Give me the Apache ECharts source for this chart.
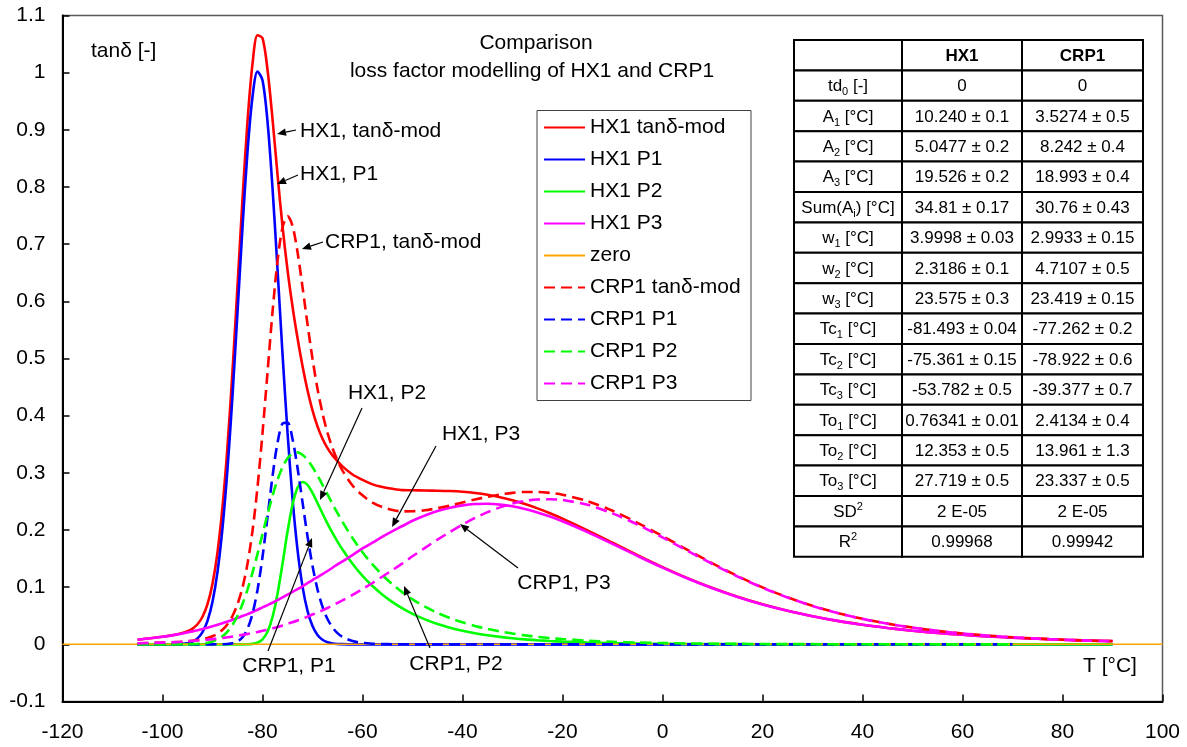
<!DOCTYPE html>
<html><head><meta charset="utf-8">
<script src="https://cdn.jsdelivr.net/npm/echarts/dist/echarts.min.js"></script>
<style>html,body{margin:0;padding:0;background:#fff}#c{width:1187px;height:747px}</style>
</head><body><div id="c"></div>
<script>
// ---------- data ----------
const temps = [-105,-100,-97,-95,-94,-93,-92,-91,-90,-89,-88,-87,-86,-85,-84,-83,-82,-81,-80,-79,-78,-77,-76,-75,-74,-73,-72,-71,-70,-69,-68,-67,-66,-65,-64,-62,-60,-58,-56,-54,-52,-50,-47.5,-45,-42.5,-40,-37.5,-35,-32.5,-30,-27.5,-25,-22.5,-20,-15,-10,-5,0,5,10,15,20,25,30,35,40,45,50,55,60,65,70,75,80,85,90];

const hx1Mod = [0.0080,0.0132,0.0177,0.0229,
 0.0275,0.0351,0.0482,0.0702,0.1061,0.1610,0.2403,0.3465,0.4780,0.6269,
 0.7789,0.9148,1.0153,1.0655,1.0603,1.0056,0.9190,0.8220,0.7315,0.6550,
 0.5910,0.5359,0.4869,0.4445,0.4093,0.3812,0.3597,0.3433,0.3305,0.3205,
 0.3113,
 0.2971,0.2877,0.2798,0.2752,0.2720,0.2698,0.2696,
 0.2690,0.2687,0.2681,0.2669,0.2648,0.2617,0.2574,0.2520,0.2454,0.2378,0.2293,0.2199,
 0.1994,0.1778,0.1560,0.1351,0.1158,0.0985,0.0832,0.0700,0.0587,0.0492,0.0410,0.0343,0.0287,0.0239,0.0200,0.0167,0.0139,0.0116,0.0097,0.0081,0.0068,0.0057];

const hx1P1 = [0,0,0.0003,0.0020,
 0.0048,0.0104,0.0213,0.0410,0.0744,0.1268,0.2034,0.3067,0.4351,0.5807,
 0.7294,0.8617,0.9579,1.0021,0.9869,0.9149,0.7986,0.6566,0.5086,0.3712,
 0.2553,0.1657,0.1014,0.0586,0.0319,0.0164,0.0080,0.0037,0.0016,0.0007,
 0.0003,
 0,0,0,0,0,0,0,
 0,0,0,0,0,0,0,0,0,0,0,0,
 0,0,0,0,0,0,0,0,0,0,0,0,0,0,0,0,0,0,0,0,0,0];

const hx1P2 = [0,0,0,0,
 0,0,0,0,0,0,0,0,0,0,
 0.0000,0.0002,0.0008,0.0029,0.0087,0.0220,0.0476,0.0881,0.1409,0.1968,
 0.2441,0.2738,0.2840,0.2790,0.2649,0.2472,0.2289,0.2113,0.1949,0.1798,
 0.1658,
 0.1410,0.1199,0.1020,0.0868,0.0738,0.0628,0.0534,
 0.0436,0.0356,0.0291,0.0238,0.0194,0.0159,0.0130,0.0106,0.0086,0.0071,0.0058,0.0047,
 0.0031,0.0021,0.0014,0.0009,0.0006,0.0004,0.0003,0.0002,0.0001,0.0001,0,0,0,0,0,0,0,0,0,0,0,0];

const hx1P3 = [0.0080,0.0132,0.0174,0.0209,
 0.0227,0.0247,0.0269,0.0292,0.0317,0.0342,0.0369,0.0398,0.0429,0.0462,
 0.0495,0.0529,0.0566,0.0605,0.0647,0.0687,0.0728,0.0773,0.0820,0.0870,
 0.0916,0.0964,0.1015,0.1069,0.1125,0.1176,0.1228,0.1283,0.1340,0.1400,
 0.1452,
 0.1561,0.1678,0.1778,0.1884,0.1982,0.2070,0.2162,
 0.2254,0.2331,0.2390,0.2431,0.2454,0.2458,0.2444,0.2414,0.2368,0.2307,0.2235,0.2152,
 0.1963,0.1757,0.1546,0.1342,0.1152,0.0981,0.0829,0.0698,0.0586,0.0491,0.0410,0.0343,0.0287,0.0239,0.0200,0.0167,0.0139,0.0116,0.0097,0.0081,0.0068,0.0057];

const crp1Mod = [0.0016,0.0030,0.0038,0.0055,
 0.0063,0.0074,0.0089,0.0110,0.0141,0.0187,0.0254,0.0353,0.0496,0.0702,
 0.0994,0.1409,0.1985,0.2749,0.3694,0.4754,0.5810,0.6703,0.7290,0.7493,
 0.7320,0.6864,0.6251,0.5601,0.4995,0.4471,0.4042,0.3701,0.3431,0.3216,
 0.3039,
 0.2779,0.2606,0.2480,0.2401,0.2351,0.2325,0.2328,
 0.2345,0.2381,0.2427,0.2480,0.2533,0.2581,0.2621,0.2650,0.2665,0.2665,0.2649,0.2617,
 0.2504,0.2336,0.2126,0.1893,0.1652,0.1416,0.1195,0.0996,0.0823,0.0675,0.0550,0.0446,0.0362,0.0293,0.0236,0.0190,0.0154,0.0124,0.0100,0.0081,0.0065,0.0053];

const crp1P1 = [0,0,0,0,
 0,0,0,0,0,0.0001,0.0002,0.0006,0.0019,0.0051,
 0.0123,0.0271,0.0534,0.0951,0.1528,0.2224,0.2935,0.3523,0.3861,0.3879,
 0.3593,0.3090,0.2487,0.1891,0.1373,0.0962,0.0658,0.0443,0.0295,0.0196,
 0.0130,
 0.0057,0.0025,0.0011,0.0005,0.0002,0.0001,0,
 0,0,0,0,0,0,0,0,0,0,0,0,
 0,0,0,0,0,0,0,0,0,0,0,0,0,0,0,0,0,0];

const crp1P2 = [0,0,0,0.0002,
 0.0004,0.0008,0.0015,0.0028,0.0050,0.0085,0.0141,0.0224,0.0341,0.0500,
 0.0706,0.0958,0.1254,0.1582,0.1928,0.2273,0.2595,0.2876,0.3099,0.3255,
 0.3340,0.3358,0.3316,0.3226,0.3101,0.2952,0.2790,0.2623,0.2457,0.2295,
 0.2141,
 0.1859,0.1611,0.1397,0.1210,0.1049,0.0909,0.0788,
 0.0658,0.0550,0.0460,0.0385,0.0322,0.0269,0.0225,0.0188,0.0157,0.0131,0.0110,0.0092,
 0.0064,0.0045,0.0031,0.0022,0.0015,0.0011,0.0008,0.0005,0.0004,0.0003,0.0002,0.0001,0.0001,0.0001,0,0,0,0];

const crp1P3 = [0.0016,0.0030,0.0038,0.0054,
 0.0060,0.0066,0.0074,0.0082,0.0091,0.0101,0.0111,0.0123,0.0136,0.0150,
 0.0165,0.0180,0.0198,0.0217,0.0237,0.0258,0.0280,0.0304,0.0330,0.0359,
 0.0387,0.0417,0.0449,0.0484,0.0521,0.0557,0.0595,0.0635,0.0679,0.0725,
 0.0769,
 0.0864,0.0970,0.1073,0.1186,0.1300,0.1415,0.1540,
 0.1687,0.1831,0.1967,0.2095,0.2211,0.2312,0.2396,0.2462,0.2508,0.2534,0.2539,0.2525,
 0.2440,0.2291,0.2095,0.1871,0.1636,0.1405,0.1187,0.0991,0.0819,0.0672,0.0548,0.0445,0.0361,0.0292,0.0236,0.0190,0.0154,0.0124,0.0100,0.0081,0.0065,0.0053];

const zeroT = [-120, 100];
const zeroV = [0, 0];

const xTicks = [-120,-100,-80,-60,-40,-20,0,20,40,60,80,100];
const yTicks = [-0.1,0,0.1,0.2,0.3,0.4,0.5,0.6,0.7,0.8,0.9,1,1.1];

const tableHead = ['', 'HX1', 'CRP1'];
const rowLabels = ['td{s|0} [-]','A{s|1} [°C]','A{s|2} [°C]','A{s|3} [°C]','Sum(A{s|i}) [°C]','w{s|1} [°C]','w{s|2} [°C]','w{s|3} [°C]','Tc{s|1} [°C]','Tc{s|2} [°C]','Tc{s|3} [°C]','To{s|1} [°C]','To{s|2} [°C]','To{s|3} [°C]','SD{p|2}','R{p|2}'];
const hx1Params = ['0','10.240 ± 0.1','5.0477 ± 0.2','19.526 ± 0.2','34.81 ± 0.17','3.9998 ± 0.03','2.3186 ± 0.1','23.575 ± 0.3','-81.493 ± 0.04','-75.361 ± 0.15','-53.782 ± 0.5','0.76341 ± 0.01','12.353 ± 0.5','27.719 ± 0.5','2 E-05','0.99968'];
const crp1Params = ['0','3.5274 ± 0.5','8.242 ± 0.4','18.993 ± 0.4','30.76 ± 0.43','2.9933 ± 0.15','4.7107 ± 0.5','23.419 ± 0.15','-77.262 ± 0.2','-78.922 ± 0.6','-39.377 ± 0.7','2.4134 ± 0.4','13.961 ± 1.3','23.337 ± 0.5','2 E-05','0.99942'];

const notes = [
 {text:'HX1, tanδ-mod', tx:300, ty:131, align:'left', from:[296,130], to:[277,134]},
 {text:'HX1, P1', tx:300, ty:174, align:'left', from:[298,175], to:[277,184]},
 {text:'CRP1, tanδ-mod', tx:325, ty:242, align:'left', from:[323,242], to:[302,249]},
 {text:'HX1, P2', tx:387, ty:393, align:'center', from:[362,408], to:[320,500]},
 {text:'HX1, P3', tx:481, ty:434, align:'center', from:[436,446], to:[392,527]},
 {text:'CRP1, P3', tx:564, ty:583, align:'center', from:[518,568], to:[460,524]},
 {text:'CRP1, P2', tx:456, ty:664, align:'center', from:[430,648], to:[404,586]},
 {text:'CRP1, P1', tx:289, ty:666, align:'center', from:[268,651], to:[312,538]}
];

// ---------- chart ----------
const FONT = '"Liberation Sans", Arial, Helvetica, sans-serif';
const DASH = [11, 6];

function mk(name, vals, color, dashed, width) {
  return {
    name, type: 'line',
    data: vals.map((v, i) => [temps[i], v]),
    symbol: 'none', showSymbol: false, smooth: 0.3,
    lineStyle: {color, width: width || 2.6, type: dashed ? DASH : 'solid', cap: 'butt'},
    itemStyle: {color},
    emphasis: {disabled: true},
    silent: true
  };
}

const series = [
  mk('HX1 tanδ-mod', hx1Mod, '#FF0000', false),
  mk('HX1 P1', hx1P1, '#0000FF', false),
  mk('HX1 P2', hx1P2, '#00FF00', false),
  mk('HX1 P3', hx1P3, '#FF00FF', false),
  {name:'zero', type:'line', data: zeroT.map((t,i)=>[t, zeroV[i]]), symbol:'none', showSymbol:false,
   lineStyle:{color:'#FFA500', width:1.5}, itemStyle:{color:'#FFA500'}, emphasis:{disabled:true}, silent:true},
  mk('CRP1 tanδ-mod', crp1Mod, '#FF0000', true),
  mk('CRP1 P1', crp1P1, '#0000FF', true),
  mk('CRP1 P2', crp1P2, '#00FF00', true),
  mk('CRP1 P3', crp1P3, '#FF00FF', true)
];

const graphics = [];
// legend frame
graphics.push({type:'rect', z:3, shape:{x:537, y:110.5, width:214, height:290}, style:{fill:'#fff', stroke:'#404040', lineWidth:1}});
// titles
graphics.push({type:'text', z:10, x:536, y:43, style:{text:'Comparison', fontSize:21, fontFamily:FONT, fill:'#000', align:'center', verticalAlign:'middle'}});
graphics.push({type:'text', z:10, x:532, y:71, style:{text:'loss factor modelling of HX1 and CRP1', fontSize:21, fontFamily:FONT, fill:'#000', align:'center', verticalAlign:'middle'}});
// axis names
graphics.push({type:'text', z:10, x:91, y:51, style:{text:'tanδ [-]', fontSize:21, fontFamily:FONT, fill:'#000', align:'left', verticalAlign:'middle'}});
graphics.push({type:'text', z:10, x:1083, y:666, style:{text:'T [°C]', fontSize:21, fontFamily:FONT, fill:'#000', align:'left', verticalAlign:'middle'}});

// annotations
notes.forEach(n => {
  graphics.push({type:'text', z:10, x:n.tx, y:n.ty, style:{text:n.text, fontSize:21, fontFamily:FONT, fill:'#000', align:n.align, verticalAlign:'middle'}});
  const [x1,y1] = n.from, [x2,y2] = n.to;
  const dx = x2-x1, dy = y2-y1, L = Math.hypot(dx,dy), ux = dx/L, uy = dy/L;
  const hl = 9, hw = 3.8;
  const bx = x2-ux*hl, by = y2-uy*hl;
  graphics.push({type:'line', z:10, shape:{x1, y1, x2:bx, y2:by}, style:{stroke:'#000', lineWidth:1.2}});
  graphics.push({type:'polygon', z:10, shape:{points:[[x2,y2],[bx-uy*hw, by+ux*hw],[bx+uy*hw, by-ux*hw]]}, style:{fill:'#000'}});
});

// parameter table
const colX = [794, 902, 1022, 1143];
const tTop = 40, rowH = 30.4;
const rich = {
  s: {fontSize: 11, fontFamily: FONT, verticalAlign: 'bottom', fill: '#000'},
  p: {fontSize: 11, fontFamily: FONT, verticalAlign: 'top', fill: '#000'}
};
const allRows = [tableHead].concat(rowLabels.map((l, i) => [l, hx1Params[i], crp1Params[i]]));
allRows.forEach((row, r) => {
  for (let c = 0; c < 3; c++) {
    const x = colX[c], w = colX[c+1]-colX[c], y = tTop + r*rowH;
    graphics.push({type:'rect', z:8, shape:{x, y, width:w, height:rowH}, style:{fill:'#fff', stroke:'#000', lineWidth:2}});
    if (row[c]) {
      graphics.push({type:'text', z:9, x: x + w/2, y: y + rowH/2 + 1, style:{
        text: row[c], fontSize: 17, fontFamily: FONT, fontWeight: r === 0 ? 'bold' : 'normal',
        fill:'#000', align:'center', verticalAlign:'middle', lineHeight: 22, rich
      }});
    }
  }
});

const chart = echarts.init(document.getElementById('c'), null, {renderer:'canvas', width:1187, height:747});
chart.setOption({
  animation: false,
  backgroundColor: '#fff',
  grid: {left: 62.5, right: 24.5, top: 15.5, bottom: 45.5, show: true, borderColor: '#5a5a5a', borderWidth: 1.5, backgroundColor: 'transparent'},
  legend: {
    data: series.map(s => s.name),
    orient: 'vertical', left: 543, top: 117, padding: 0,
    itemWidth: 41, itemHeight: 14, itemGap: 11,
    selectedMode: false, z: 5,
    itemStyle: {opacity: 0},
    textStyle: {fontSize: 21, fontFamily: FONT, color: '#000'}
  },
  xAxis: {
    type: 'value', min: xTicks[0], max: xTicks[xTicks.length-1], interval: 20,
    axisLine: {show: true, onZero: false, lineStyle: {color: '#000', width: 2}},
    axisTick: {show: true, inside: true, length: 7, lineStyle: {color: '#000', width: 1.5}},
    axisLabel: {fontSize: 21, fontFamily: FONT, color: '#000', margin: 20},
    splitLine: {show: false}
  },
  yAxis: {
    type: 'value', min: yTicks[0], max: yTicks[yTicks.length-1], interval: 0.1,
    axisLine: {show: true, onZero: false, lineStyle: {color: '#000', width: 2}},
    axisTick: {show: true, inside: true, length: 7, lineStyle: {color: '#000', width: 1.5}},
    axisLabel: {fontSize: 21, fontFamily: FONT, color: '#000', margin: 17,
      formatter: v => String(Math.round(v*10)/10)},
    splitLine: {show: false}
  },
  series,
  graphic: {elements: graphics}
});
</script>
</body></html>
